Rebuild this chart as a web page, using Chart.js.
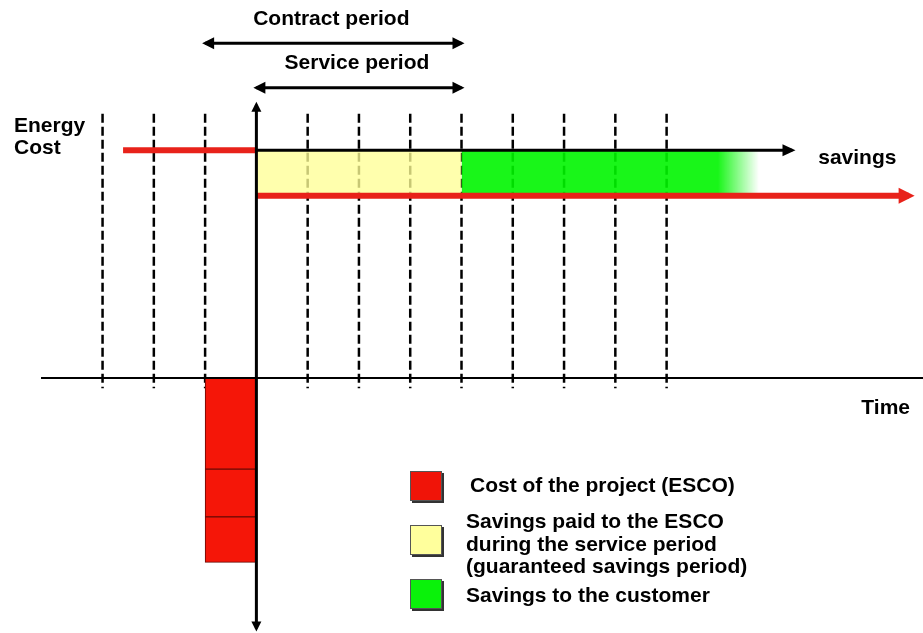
<!DOCTYPE html>
<html>
<head>
<meta charset="utf-8">
<script src="https://cdn.jsdelivr.net/npm/chart.js@4.4.0/dist/chart.umd.min.js"></script>
<style>
  html, body { margin: 0; padding: 0; background: #fff; }
  #wrap { width: 923px; height: 633px; }
</style>
</head>
<body>
<div id="wrap"><canvas id="escoChart"></canvas></div>
<script>
// time is counted in contract periods, 0 = start of the service period
const periodMarks = [-3, -2, -1, 1, 2, 3, 4, 5, 6, 7, 8];
const periodMarkTop = 11.6;
const periodMarkBottom = -0.45;

// energy cost before / after the project
const costBeforeFrom = -2.6;
const costBefore = 10;
const costAfter = 8;
const costAfterTo = 12.72;
const savingsArrowTo = 10.45;

// periods shown with double arrows at the top
const contractPeriod = [-1, 4];
const servicePeriod = [0, 4];
const contractLevel = 14.7;
const serviceLevel = 12.75;

// savings split between ESCO and customer
const escoSavings = [0, 4];
const customerSavings = [4, 9.8];
const customerFadeFrom = 9;

// project cost paid up front (ESCO), stacked blocks below zero
const projectCostAt = -0.5;
const projectCost = [[0, -4], [-4, -6.1], [-6.1, -8.1]];

// axes
const timeAxis = [-4.2, 13];
const costAxis = [-11, 12];

const legendColors = ['#f01408', '#ffff9c', '#0af20a'];
const legendLabels = [
    ['Cost of the project (ESCO)'],
    ['Savings paid to the ESCO', 'during the service period', '(guaranteed savings period)'],
    ['Savings to the customer']
];

const RED = '#e8221a';
const FONT = 'bold 21px "Liberation Sans", Arial, sans-serif';

// Arrow heads, captions and legend
const escoPlugin = {
    id: 'escoDecor',
    afterDatasetsDraw(chart) {
        const ctx = chart.ctx;
        const { x, y } = chart.scales;
        const area = chart.chartArea;

        // arrow heads on datasets that ask for them
        chart.data.datasets.forEach((ds, i) => {
            if (!ds.arrows) return;
            const pts = chart.getDatasetMeta(i).data;
            const [len, half] = ds.arrowSize || [12, 6];
            const lw = ds.borderWidth || 2;
            const head = (from, to) => {
                const dx = to.x - from.x, dy = to.y - from.y;
                const d = Math.hypot(dx, dy) || 1;
                const ux = dx / d, uy = dy / d;
                const ext = (lw / 2) * len / half;
                const tx = to.x + ux * ext, ty = to.y + uy * ext;
                const bx = tx - ux * len, by = ty - uy * len;
                ctx.beginPath();
                ctx.moveTo(tx, ty);
                ctx.lineTo(bx - uy * half, by + ux * half);
                ctx.lineTo(bx + uy * half, by - ux * half);
                ctx.closePath();
                ctx.fill();
            };
            ctx.save();
            ctx.fillStyle = ds.borderColor;
            if (ds.arrows.includes('end')) head(pts[pts.length - 2], pts[pts.length - 1]);
            if (ds.arrows.includes('start')) head(pts[1], pts[0]);
            ctx.restore();
        });

        ctx.save();
        ctx.font = FONT;
        ctx.fillStyle = '#000';
        ctx.textBaseline = 'middle';

        // captions above the period arrows
        ctx.textAlign = 'center';
        chart.data.datasets.forEach((ds) => {
            if (ds.caption === undefined) return;
            const cx = x.getPixelForValue((ds.data[0].x + ds.data[1].x) / 2);
            ctx.fillText(ds.label, cx + ds.caption, y.getPixelForValue(ds.data[0].y) - 24);
        });

        // axis titles
        ctx.textAlign = 'left';
        const yTop = y.getPixelForValue(costBefore);
        ctx.fillText('Energy', area.left + 14, yTop - 24);
        ctx.fillText('Cost', area.left + 14, yTop - 2);
        ctx.fillText('savings', x.getPixelForValue(savingsArrowTo) + 26, yTop + 8);
        ctx.textAlign = 'right';
        ctx.fillText('Time', area.right - 13, y.getPixelForValue(0) + 30);

        // legend
        const lx = 410, boxW = 32, boxH = 30;
        const boxRows = [486, 540, 594];
        const textRows = [486, 545, 596];
        legendLabels.forEach((lines, i) => {
            const by = boxRows[i] - boxH / 2;
            ctx.fillStyle = '#333';
            ctx.fillRect(lx + 2, by + 2, boxW, boxH);
            ctx.fillStyle = legendColors[i];
            ctx.fillRect(lx, by, boxW, boxH);
            ctx.strokeStyle = '#555';
            ctx.lineWidth = 1;
            ctx.strokeRect(lx + 0.5, by + 0.5, boxW - 1, boxH - 1);
            ctx.fillStyle = '#000';
            ctx.textAlign = 'left';
            const lh = 22.5;
            lines.forEach((t, k) => {
                ctx.fillText(t, lx + 56 + (i === 0 ? 4 : 0), textRows[i] + (k - (lines.length - 1) / 2) * lh);
            });
        });
        ctx.restore();
    }
};

const line = (data, extra) => Object.assign({
    type: 'line',
    data: data,
    pointRadius: 0,
    borderCapStyle: 'butt',
    tension: 0,
    fill: false
}, extra);

const gridData = [];
periodMarks.forEach(t => {
    gridData.push({ x: t, y: periodMarkTop }, { x: t, y: periodMarkBottom }, { x: t, y: null });
});

const datasets = [
    // vertical cost axis
    line([{ x: 0, y: costAxis[1] }, { x: 0, y: costAxis[0] }], {
        label: 'cost axis', borderColor: '#000', borderWidth: 3, order: 1,
        arrows: ['start', 'end'], arrowSize: [10, 5]
    }),
    // time axis
    line([{ x: timeAxis[0], y: 0 }, { x: timeAxis[1], y: 0 }], {
        label: 'time axis', borderColor: '#000', borderWidth: 2, order: 1
    }),
    // contract / service arrows
    line([{ x: contractPeriod[0], y: contractLevel }, { x: contractPeriod[1], y: contractLevel }], {
        label: 'Contract period', borderColor: '#000', borderWidth: 3, order: 1,
        arrows: ['start', 'end'], arrowSize: [12, 6], caption: -2
    }),
    line([{ x: servicePeriod[0], y: serviceLevel }, { x: servicePeriod[1], y: serviceLevel }], {
        label: 'Service period', borderColor: '#000', borderWidth: 3, order: 1,
        arrows: ['start', 'end'], arrowSize: [12, 6], caption: -2
    }),
    // savings arrow
    line([{ x: 0, y: costBefore }, { x: savingsArrowTo, y: costBefore }], {
        label: 'savings', borderColor: '#000', borderWidth: 3, order: 1,
        arrows: ['end'], arrowSize: [13, 6]
    }),
    // energy cost lines
    line([{ x: costBeforeFrom, y: costBefore }, { x: 0, y: costBefore }], {
        label: 'cost before', borderColor: RED, borderWidth: 6, order: 2
    }),
    line([{ x: 0, y: costAfter }, { x: costAfterTo, y: costAfter }], {
        label: 'cost after', borderColor: RED, borderWidth: 6, order: 2,
        arrows: ['end'], arrowSize: [16, 8]
    }),
    // project cost blocks
    {
        type: 'bar',
        label: 'Cost of the project (ESCO)',
        data: projectCost.map(v => ({ x: projectCostAt, y: v })),
        backgroundColor: '#f51608',
        borderColor: '#6a0a04',
        borderWidth: 1,
        borderSkipped: false,
        barPercentage: 1,
        categoryPercentage: 1,
        order: 3
    },
    // savings areas
    line([{ x: escoSavings[0], y: costBefore }, { x: escoSavings[1], y: costBefore }], {
        label: 'Savings paid to the ESCO', borderColor: 'transparent', borderWidth: 0,
        backgroundColor: 'rgba(255,255,150,0.78)', fill: { value: costAfter }, order: 4
    }),
    line([{ x: customerSavings[0], y: costBefore }, { x: customerSavings[1], y: costBefore }], {
        label: 'Savings to the customer', borderColor: 'transparent', borderWidth: 0,
        fill: { value: costAfter }, order: 4,
        backgroundColor(c) {
            const ch = c.chart;
            if (!ch.chartArea) return 'rgba(0,245,0,0.9)';
            const x0 = ch.scales.x.getPixelForValue(customerFadeFrom);
            const x1 = ch.scales.x.getPixelForValue(customerSavings[1]);
            const g = ch.ctx.createLinearGradient(x0, 0, x1, 0);
            g.addColorStop(0, 'rgba(0,245,0,0.9)');
            g.addColorStop(1, 'rgba(0,245,0,0)');
            return g;
        }
    }),
    // period boundaries
    line(gridData, {
        label: 'periods', borderColor: '#000', borderWidth: 2.5,
        borderDash: [9, 4], spanGaps: false, order: 5
    })
];

new Chart(document.getElementById('escoChart'), {
    type: 'line',
    data: { datasets: datasets },
    options: {
        responsive: true,
        maintainAspectRatio: false,
        animation: false,
        events: [],
        layout: { padding: 0 },
        plugins: {
            legend: { display: false },
            tooltip: { enabled: false }
        },
        scales: {
            x: { type: 'linear', min: -5, max: 13, offset: false, display: false, ticks: { stepSize: 1 } },
            y: { type: 'linear', min: -11.2, max: 16.6, display: false }
        }
    },
    plugins: [escoPlugin]
});
</script>
</body>
</html>
